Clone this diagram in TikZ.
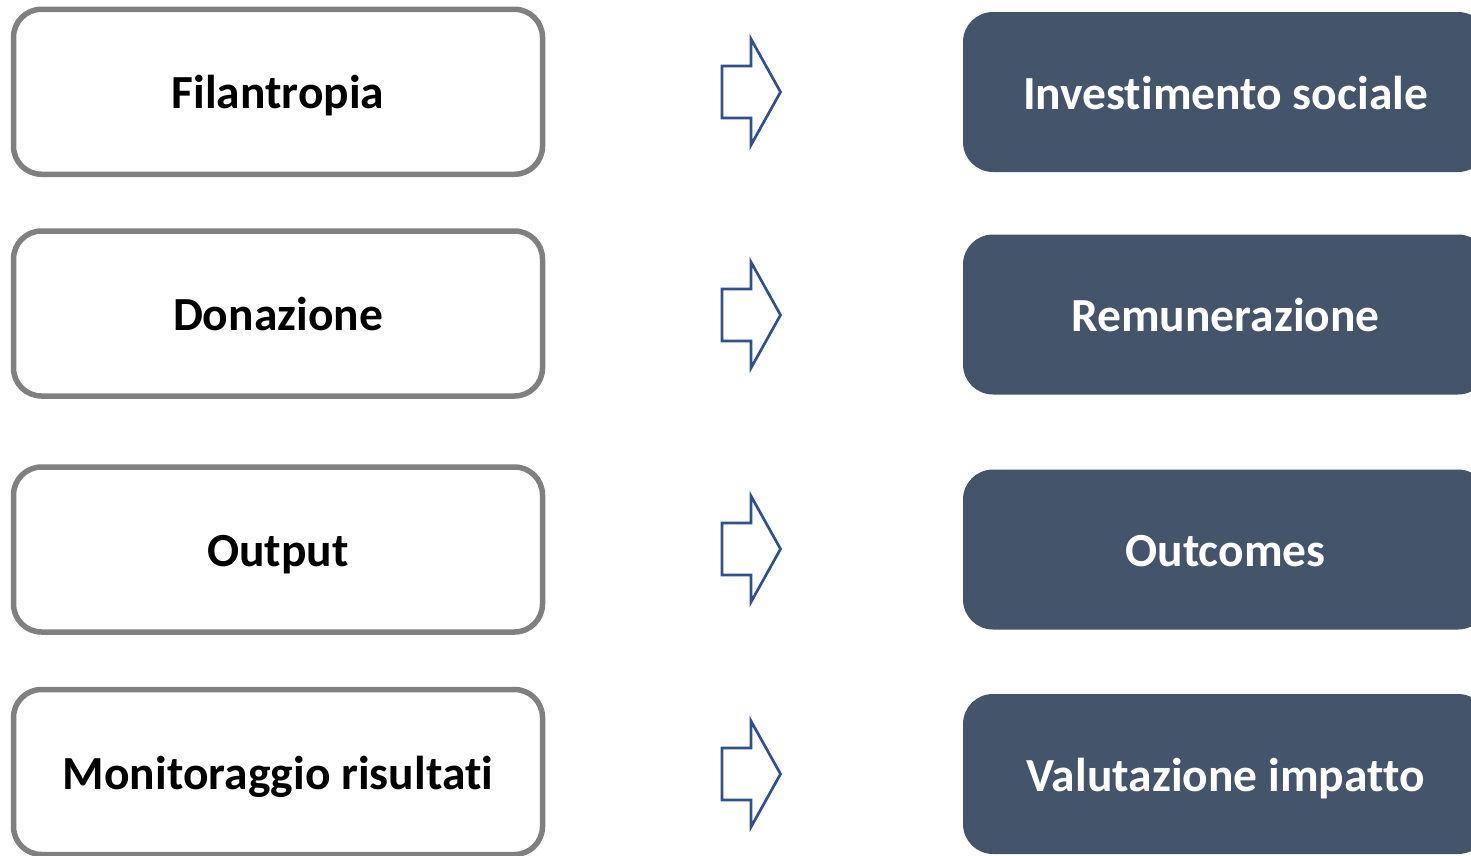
\documentclass[tikz,border=0pt]{standalone}
\usepackage{fontspec}
\setmainfont{Carlito}[Ligatures=NoCommon]
\usepackage{xcolor}
\usepackage{tikz}
\usetikzlibrary{positioning}
\definecolor{fwslate}{HTML}{44546A}
\definecolor{fwblue}{HTML}{2F528F}
\definecolor{fwgray}{HTML}{808080}
\tikzset{
fwtext/.style={font=\fontsize{47.5}{56}\selectfont\bfseries,align=center,inner sep=0pt,text height=40pt,text depth=6pt},
fwbox/.style={rectangle,rounded corners=28pt,draw=fwgray,line width=5.5pt,fill=white,fwtext,minimum width=529pt,minimum height=165pt},
fwtarget/.style={rectangle,rounded corners=30pt,fill=fwslate,text=white,fwtext,minimum width=525pt,minimum height=160pt},
fwarrow/.style={draw=fwblue,line width=2.7pt,line join=miter,fill=white}
}
\begin{document}
\begin{tikzpicture}[
x=1pt,
y=-1pt
]
\useasboundingbox (0,0) rectangle (1471,855);
\clip (0,0) rectangle (1471,855);
% left column
\node[fwbox] (filantropia) at (278,91.75) {Filantropia};
\node[fwbox] (donazione) at (278,313.5) {Donazione};
\node[fwbox] (output) at (278,549.5) {Output};
\node[fwbox] (monitoraggio) at (278,772) {Monitoraggio risultati};
% right column
\node[fwtarget] (investimento) at (1225.5,92) {Investimento sociale};
\node[fwtarget] (remunerazione) at (1225.5,314.5) {Remunerazione};
\node[fwtarget] (outcomes) at (1225.5,549.5) {Outcomes};
\node[fwtarget] (valutazione) at (1225.5,774) {Valutazione impatto};
% block arrows
\foreach \row/\yy in {1/92,2/315,3/549,4/774}{
  \coordinate (arrow\row) at (751,\yy);
  \draw[fwarrow] (arrow\row) ++(-29,-26) -- ++(29,0) -- ++(0,-27) -- ++(29.5,53)
    -- ++(-29.5,53) -- ++(0,-27) -- ++(-29,0) -- cycle;
}
\end{tikzpicture}
\end{document}
